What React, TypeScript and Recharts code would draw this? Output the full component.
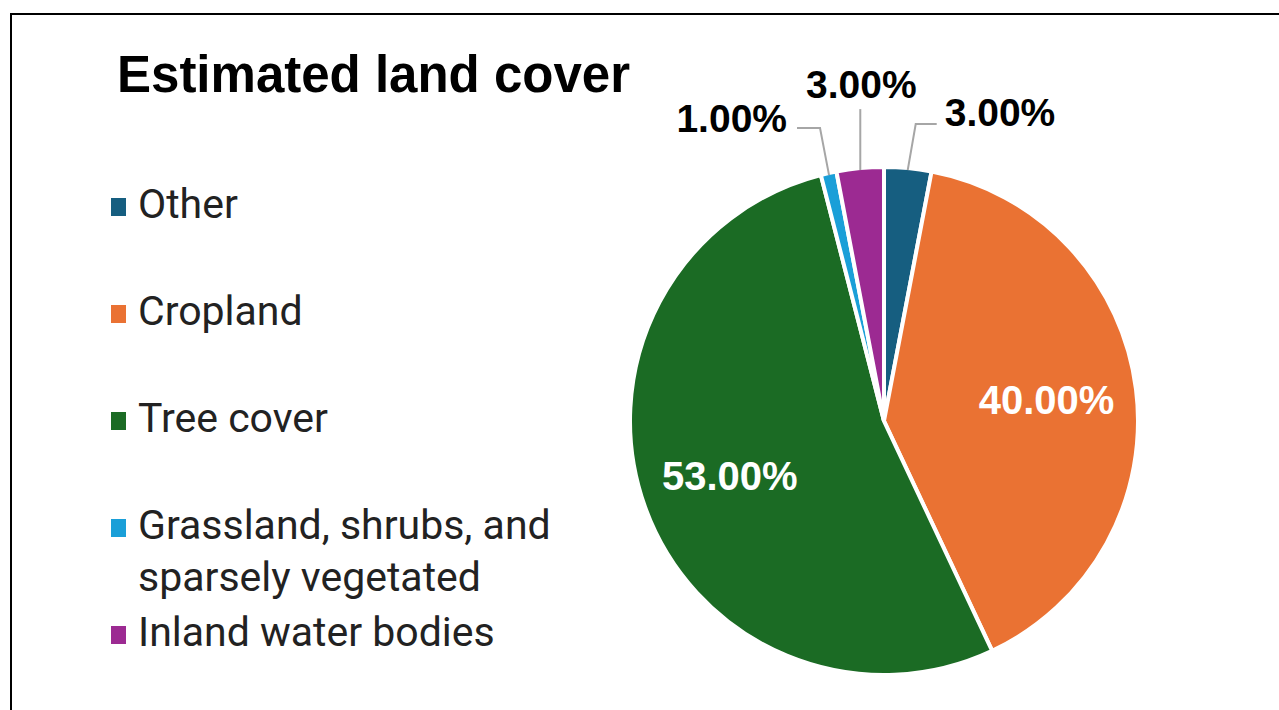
import React from 'react';
import { PieChart, Pie, Cell, Legend } from 'recharts';

const title = 'Estimated land cover';
const categories = [
  'Other',
  'Cropland',
  'Tree cover',
  'Grassland, shrubs, and sparsely vegetated',
  'Inland water bodies',
];
const shares = [3, 40, 53, 1, 3];
const colors = ['#165E80', '#EA7233', '#1B6B24', '#1A9FD8', '#9C2A92'];

const data = categories.map((name, i) => ({ name, value: shares[i] }));

// leader-line layout for small (outside) labels, keyed by slice index
const outsideLayout: Record<number, { dx: number; dy: number; h: number; anchor: 'start' | 'middle' | 'end' }> = {
  0: { dx: 8, dy: -46, h: 21, anchor: 'start' },
  3: { dx: -9, dy: -47, h: -23, anchor: 'end' },
  4: { dx: 0, dy: -61, h: 0, anchor: 'middle' },
};

const LABEL_FONT = "'Liberation Sans', Arial, sans-serif";
const RAD = Math.PI / 180;

const renderLabel = (props: any) => {
  const { cx, cy, midAngle, outerRadius, percent, index, value } = props;
  const text = `${Number(value).toFixed(2)}%`;
  const cos = Math.cos(-midAngle * RAD);
  const sin = Math.sin(-midAngle * RAD);
  if (percent > 0.1) {
    const r = outerRadius * 0.645;
    const x = cx + r * cos;
    const y = cy + r * sin;
    return (
      <text
        key={`lbl-${index}`}
        x={x}
        y={y + 14}
        textAnchor="middle"
        fill="#ffffff"
        fontFamily={LABEL_FONT}
        fontWeight="bold"
        fontSize={40}
      >
        {text}
      </text>
    );
  }
  const lay = outsideLayout[index];
  if (!lay) return null;
  const sx = cx + (outerRadius - 2) * cos;
  const sy = cy + (outerRadius - 2) * sin;
  const ex = sx + lay.dx;
  const ey = sy + lay.dy;
  const hx = ex + lay.h;
  let tx = hx;
  let ty = ey - 12 + 14;
  if (lay.anchor === 'start') tx = hx + 8;
  if (lay.anchor === 'end') {
    tx = hx - 10;
    ty = ey - 10 + 14;
  }
  if (lay.anchor === 'middle') {
    tx = ex + 1;
    ty = ey - 25 + 14;
  }
  return (
    <g key={`lbl-${index}`}>
      <polyline
        points={`${sx},${sy} ${ex},${ey} ${hx},${ey}`}
        fill="none"
        stroke="#A6A6A6"
        strokeWidth={2}
      />
      <text
        x={tx}
        y={ty}
        textAnchor={lay.anchor}
        fill="#000000"
        fontFamily={LABEL_FONT}
        fontWeight="bold"
        fontSize={39}
      >
        {text}
      </text>
    </g>
  );
};

const wrapText = (s: string, max: number): string[] => {
  const words = s.split(' ');
  const lines: string[] = [];
  let cur = '';
  words.forEach((w) => {
    const next = cur ? `${cur} ${w}` : w;
    if (next.length > max && cur) {
      lines.push(cur);
      cur = w;
    } else {
      cur = next;
    }
  });
  if (cur) lines.push(cur);
  return lines;
};

const renderLegend = (props: any) => {
  const payload = [...(props.payload || [])].sort(
    (a: any, b: any) => categories.indexOf(a.value) - categories.indexOf(b.value)
  );
  return (
    <svg width={600} height={710} style={{ display: 'block', overflow: 'visible' }}>
      {payload.map((entry: any, i: number) => {
        const idx = categories.indexOf(entry.value);
        const color = idx >= 0 ? colors[idx] : entry.color;
        const baseline = 218 + i * 107;
        const lines = wrapText(String(entry.value), 24);
        return (
          <g key={`leg-${i}`}>
            <rect x={111} y={baseline - 20} width={15} height={18} fill={color} />
            <text
              x={138}
              y={baseline}
              fill="#222222"
              fontFamily="Roboto, 'Noto Sans', sans-serif"
              fontSize={41}
            >
              {lines.map((ln, j) => (
                <tspan key={j} x={138} y={baseline + j * 52}>
                  {ln}
                </tspan>
              ))}
            </text>
          </g>
        );
      })}
    </svg>
  );
};

export default function App() {
  return (
    <div
      style={{
        position: 'absolute',
        left: 0,
        top: 0,
        width: 1279,
        height: 710,
        overflow: 'hidden',
        background: '#ffffff',
      }}
    >
      <div
        style={{
          position: 'absolute',
          left: 10,
          top: 13,
          width: 1300,
          height: 720,
          borderTop: '2px solid #000',
          borderLeft: '2px solid #000',
          boxSizing: 'border-box',
        }}
      />
      <div style={{ position: 'absolute', left: 0, top: 0 }}>
        <PieChart width={1279} height={710} margin={{ top: 0, right: 0, bottom: 0, left: 0 }}>
          <Pie
            data={data}
            dataKey="value"
            nameKey="name"
            cx={884}
            cy={421}
            outerRadius={254}
            startAngle={90}
            endAngle={-270}
            stroke="#ffffff"
            strokeWidth={4}
            label={renderLabel}
            labelLine={false}
            isAnimationActive={false}
          >
            {data.map((d, i) => (
              <Cell key={d.name} fill={colors[i]} />
            ))}
          </Pie>
          <Legend
            layout="vertical"
            align="center"
            verticalAlign="middle"
            content={renderLegend}
            wrapperStyle={{ left: 0, top: 0, width: 600, height: 710 }}
          />
        </PieChart>
      </div>
      <svg
        width={700}
        height={120}
        style={{ position: 'absolute', left: 0, top: 0, pointerEvents: 'none' }}
      >
        <text
          x={117}
          y={92}
          fill="#000000"
          fontFamily={LABEL_FONT}
          fontWeight="bold"
          fontSize={51}
        >
          {title}
        </text>
      </svg>
    </div>
  );
}
